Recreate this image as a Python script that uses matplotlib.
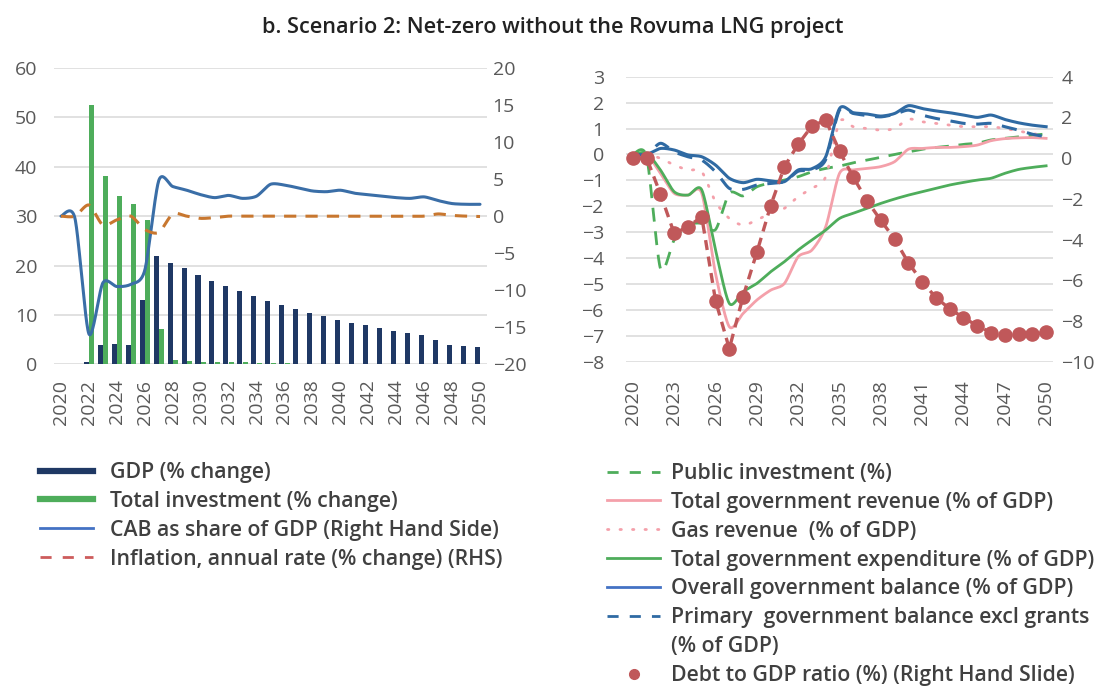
import numpy as np
import matplotlib
matplotlib.use("Agg")
import matplotlib.pyplot as plt
from matplotlib.lines import Line2D

# ---------------- data ----------------
years = list(range(2020, 2051))

# Left panel (LHS: %, RHS: %)
gdp_change = [0, 0, 0.5, 3.9, 4.1, 4.0, 13.1, 21.9, 20.6, 19.4, 18.1, 16.9, 15.8, 14.8,
              13.8, 12.8, 12.0, 11.1, 10.4, 9.8, 9.0, 8.4, 7.9, 7.4, 6.7, 6.4, 5.9, 4.9,
              4.0, 3.8, 3.5]
investment_change = [0, 0, 52.5, 38.1, 34.1, 32.4, 29.2, 7.1, 0.9, 0.7, 0.5, 0.4, 0.4, 0.4,
                     0.2, 0.2, 0.2, 0.1, 0.1, 0.1, 0.1, 0.1, 0.1, 0.1, 0.05, 0.05, 0.05,
                     0.05, 0.05, 0.05, 0.05]
cab_share = [0, -0.3, -15.9, -9.0, -9.5, -9.2, -7.3, 4.8, 4.0, 3.5, 2.9, 2.5, 2.8, 2.4, 2.7,
             4.3, 4.2, 3.8, 3.4, 3.3, 3.5, 3.1, 2.9, 2.7, 2.5, 2.4, 2.6, 2.1, 1.7, 1.6, 1.6]
inflation = [0, 0, 1.5, -1.2, -0.5, 0, -1.8, -2.2, 0.3, 0, -0.3, -0.2, 0, 0, 0, 0, 0, 0, 0,
             0, 0, 0, 0, 0, 0, 0, 0, 0.3, 0.1, 0, -0.05]

# Right panel (LHS: % of GDP, RHS: debt ratio)
public_investment = [0.0, -0.1, -4.4, -3.3, -2.73, -2.66, -2.9, -1.5, -1.6, -1.25, -1.1,
                     -0.99, -0.86, -0.67, -0.54, -0.45, -0.32, -0.22, -0.11, 0, 0.1, 0.2,
                     0.27, 0.32, 0.39, 0.43, 0.56, 0.62, 0.68, 0.74, 0.79]
total_revenue = [0, 0, -0.73, -1.5, -1.57, -1.5, -4.6, -6.65, -6.14, -5.62, -5.24, -4.98,
                 -3.95, -3.69, -2.79, -0.73, -0.6, -0.54, -0.47, -0.28, 0.2, 0.23, 0.27,
                 0.27, 0.3, 0.36, 0.53, 0.61, 0.64, 0.65, 0.62]
gas_revenue = [0, 0, -0.15, -0.41, -0.6, -0.67, -1.83, -2.47, -2.73, -2.53, -2.27, -2.08,
               -1.63, -1.31, -0.86, 1.26, 1.07, 1.0, 0.94, 1.0, 1.36, 1.26, 1.2, 1.13, 1.07,
               1.07, 1.07, 1.0, 0.9, 0.8, 0.75]
total_expenditure = [0, 0.05, -0.6, -1.44, -1.57, -1.37, -3.69, -5.75, -5.3, -4.98, -4.53,
                     -4.14, -3.69, -3.3, -2.92, -2.47, -2.27, -2.08, -1.89, -1.72, -1.57,
                     -1.44, -1.31, -1.18, -1.08, -0.99, -0.92, -0.73, -0.58, -0.5, -0.44]
overall_balance = [0, 0, 0.23, 0.17, -0.02, -0.09, -0.41, -0.92, -1.09, -0.96, -1.02, -1.05,
                   -0.6, -0.55, -0.09, 1.77, 1.61, 1.56, 1.48, 1.58, 1.88, 1.77, 1.68, 1.61,
                   1.52, 1.43, 1.52, 1.35, 1.22, 1.13, 1.07]
primary_balance = [0, 0, 0.43, 0.1, -0.09, -0.22, -0.67, -1.31, -1.35, -1.18, -1.12, -1.05,
                   -0.65, -0.6, -0.2, 1.71, 1.58, 1.5, 1.45, 1.55, 1.71, 1.52, 1.39, 1.30,
                   1.2, 1.17, 1.2, 1.07, 0.94, 0.78, 0.68]
debt_ratio = [0, 0, -1.76, -3.7, -3.37, -2.88, -7.0, -9.36, -6.8, -4.63, -2.34, -0.42, 0.68,
              1.58, 1.87, 0.35, -0.94, -2.09, -3.06, -3.97, -5.14, -6.07, -6.85, -7.4,
              -7.84, -8.23, -8.57, -8.7, -8.65, -8.65, -8.56]

title = "b. Scenario 2: Net-zero without the Rovuma LNG project"
left_labels = ["GDP (% change)", "Total investment (% change)",
               "CAB as share of GDP (Right Hand Side)",
               "Inflation, annual rate (% change) (RHS)"]
right_labels = ["Public investment (%)", "Total government revenue (% of GDP)",
                "Gas revenue  (% of GDP)", "Total government expenditure (% of GDP)",
                "Overall government balance (% of GDP)",
                "Primary  government balance excl grants", "(% of GDP)",
                "Debt to GDP ratio (%) (Right Hand Slide)"]

# ---------------- style ----------------
NAVY = "#1F3864"
GREEN = "#4EAD5B"
CAB_C = "#3A6EA7"
INFL_C = "#C8772F"
PINK = "#F4A0AA"
BLUE = "#2F6AA3"
DEBT = "#C0585A"
GRID = "#DCDCDC"
TICK = "#595959"
TXT = "#404040"
TENSION = 0.4
LEG_FS = 15.3

plt.rcParams["font.family"] = ["Open Sans", "DejaVu Sans"]


def smooth(y, n=24):
    """Smoothed curve (cardinal spline) through the data points."""
    x = np.arange(len(y), dtype=float)
    P = np.column_stack([x, np.asarray(y, float)])
    Pp = np.vstack([P[0], P, P[-1]])
    t = np.linspace(0, 1, n, endpoint=False)[:, None]
    h00 = 2 * t**3 - 3 * t**2 + 1
    h10 = t**3 - 2 * t**2 + t
    h01 = -2 * t**3 + 3 * t**2
    h11 = t**3 - t**2
    segs = []
    for i in range(len(P) - 1):
        p0, p1, p2, p3 = Pp[i], Pp[i + 1], Pp[i + 2], Pp[i + 3]
        m1 = (p2 - p0) * TENSION
        m2 = (p3 - p1) * TENSION
        segs.append(h00 * p1 + h10 * m1 + h01 * p2 + h11 * m2)
    segs.append(P[-1][None, :])
    S = np.vstack(segs)
    return S[:, 0], S[:, 1]


fig = plt.figure(figsize=(10.99, 6.86), dpi=100)

idx = np.arange(len(years))

# ---------------- left panel ----------------
axL = fig.add_axes([54 / 1099, 1 - 364.3 / 686, 433 / 1099, 296.3 / 686])
axL.bar(idx - 0.19, gdp_change, width=0.36, color=NAVY, zorder=2)
axL.bar(idx + 0.19, investment_change, width=0.36, color=GREEN, zorder=2)
axL.set_ylim(0, 60)
axL.set_yticks(range(0, 61, 10))
axL.set_xlim(-0.5, len(years) - 0.5)
axL.set_xticks(idx[::2])
axL.set_xticklabels([str(y) for y in years[::2]], rotation=90)
axL.grid(axis="y", color=GRID, lw=1.2)
axL.set_axisbelow(True)

axL2 = axL.twinx()
xs, ys = smooth(cab_share)
axL2.plot(xs, ys, color=CAB_C, lw=2.2, solid_capstyle="round")
xs, ys = smooth(inflation)
axL2.plot(xs, ys, color=INFL_C, lw=2.2, dashes=(4, 3))
axL2.set_ylim(-20, 20)
axL2.set_yticks(range(-20, 21, 5))

# ---------------- right panel ----------------
axR = fig.add_axes([626 / 1099, 1 - 361.7 / 686, 427 / 1099, 285 / 686])
axR.set_xlim(-0.5, len(years) - 0.5)
axR.set_ylim(-8, 3)
axR.set_yticks(range(-8, 4))
axR.set_xticks(idx[::3])
axR.set_xticklabels([str(y) for y in years[::3]], rotation=90)
axR.grid(axis="y", color=GRID, lw=1.2)
axR.set_axisbelow(True)

xs, ys = smooth(public_investment)
axR.plot(xs, ys, color=GREEN, lw=2, dashes=(5, 3.5))
xs, ys = smooth(total_revenue)
axR.plot(xs, ys, color=PINK, lw=2)
xs, ys = smooth(gas_revenue)
axR.plot(xs, ys, color=PINK, lw=2, linestyle=(0, (0.5, 4)), dash_capstyle="round")
xs, ys = smooth(total_expenditure)
axR.plot(xs, ys, color=GREEN, lw=2)
xs, ys = smooth(overall_balance)
axR.plot(xs, ys, color=BLUE, lw=2.2)
xs, ys = smooth(primary_balance)
axR.plot(xs, ys, color=BLUE, lw=2.2, dashes=(5, 3.5))

axR2 = axR.twinx()
axR2.plot(idx, debt_ratio, color=DEBT, lw=2.4, dashes=(3, 2), marker="o", ms=9.5,
          markeredgecolor=DEBT, markerfacecolor=DEBT)
axR2.set_ylim(-10, 4)
axR2.set_yticks(range(-10, 5, 2))

for ax in (axL, axL2, axR, axR2):
    for s in ax.spines.values():
        s.set_visible(False)
    ax.tick_params(length=0, labelsize=14, labelcolor=TICK)
axL.tick_params(axis="y", pad=12)
axL2.tick_params(axis="y", pad=4)
axL.tick_params(axis="x", pad=11)
axR.tick_params(axis="y", pad=16)
axR2.tick_params(axis="y", pad=6)
axR.tick_params(axis="x", pad=13)

# ---------------- title ----------------
fig.text(0.503, 1 - 27 / 686, title, ha="center", va="center", fontsize=15.6,
         fontweight="semibold", color="#222222")

# ---------------- legends ----------------
hL = [Line2D([], [], color=NAVY, lw=4.5),
      Line2D([], [], color=GREEN, lw=4.5),
      Line2D([], [], color="#4472C4", lw=2),
      Line2D([], [], color="#CD5C5C", lw=2, dashes=(4, 4))]
legL = fig.legend(hL, left_labels, loc="upper left", bbox_to_anchor=(40 / 1099, 1 - 462 / 686),
                  frameon=False, fontsize=LEG_FS, handlelength=2.5, handletextpad=0.8,
                  labelspacing=0.37, borderpad=0, borderaxespad=0)
for t in legL.get_texts():
    t.set_color(TXT)
    t.set_fontweight("semibold")

hR = [Line2D([], [], color=GREEN, lw=2, dashes=(4, 4)),
      Line2D([], [], color=PINK, lw=2),
      Line2D([], [], color=PINK, lw=2, linestyle=(0, (0.5, 4)), dash_capstyle="round"),
      Line2D([], [], color=GREEN, lw=2),
      Line2D([], [], color="#4472C4", lw=2),
      Line2D([], [], color=BLUE, lw=2, dashes=(4, 4)),
      Line2D([], [], lw=0, alpha=0),
      Line2D([], [], color=DEBT, lw=0, marker="o", ms=7)]
legR = fig.legend(hR, right_labels, loc="upper left", bbox_to_anchor=(607 / 1099, 1 - 463 / 686),
                  frameon=False, fontsize=LEG_FS, handlelength=2.5, handletextpad=0.52,
                  labelspacing=0.37, borderpad=0, borderaxespad=0)
for t in legR.get_texts():
    t.set_color(TXT)
    t.set_fontweight("semibold")

fig.savefig("out.png", dpi=100)
